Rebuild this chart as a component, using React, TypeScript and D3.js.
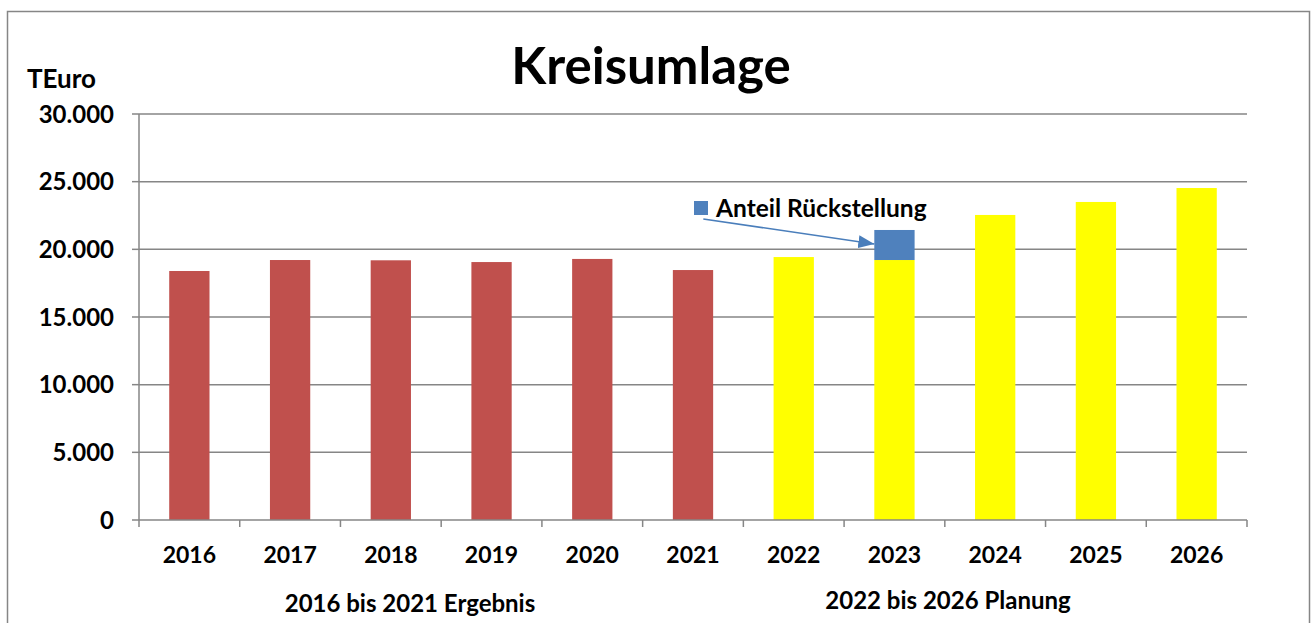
import React from "react";
import * as d3 from "d3";

const years = ["2016", "2017", "2018", "2019", "2020", "2021", "2022", "2023", "2024", "2025", "2026"];
const baseValues = [18400, 19210, 19190, 19060, 19290, 18470, 19430, 19210, 22540, 23500, 24530];
const reserveValues = [0, 0, 0, 0, 0, 0, 0, 2220, 0, 0, 0];
const isPlan = [false, false, false, false, false, false, true, true, true, true, true];
const yTicks = [0, 5000, 10000, 15000, 20000, 25000, 30000];
const groupLabels = ["2016 bis 2021 Ergebnis", "2022 bis 2026 Planung"];
const annotationText = "Anteil Rückstellung";
const annotationYear = "2023";

const W = 1312;
const H = 623;
const M = { left: 139, right: 1247, top: 114, bottom: 520 };
const FONT = "Lato, 'Open Sans', sans-serif";
const GRID = "#868686";
const groupPos = [
  { x: 410, y: 603 },
  { x: 948, y: 600 },
];

export default function App() {
  const x = d3.scaleBand<string>().domain(years).range([M.left, M.right]).paddingInner(0.6).paddingOuter(0.3);
  const xb = d3.scaleBand<string>().domain(years).range([M.left, M.right]);
  const y = d3.scaleLinear().domain([0, 30000]).range([M.bottom, M.top]);
  const fmt = (v: number) => (v === 0 ? "0" : d3.format(",")(v).replace(/,/g, "."));

  const ai = years.indexOf(annotationYear);
  const annX = x(annotationYear)!;
  const annTop = y(baseValues[ai] + reserveValues[ai]);
  const annBot = y(baseValues[ai]);
  const arrowEnd: [number, number] = [annX, (annTop + annBot) / 2 - 1];
  const arrowStart: [number, number] = [annX - 171, 219];

  return (
    <svg width={W} height={H} style={{ position: "absolute", left: 0, top: 0, background: "#fff" }} fontFamily={FONT}>
      <defs>
        <marker id="arr" viewBox="0 0 16 13" refX="16" refY="6.5" markerWidth="16" markerHeight="13" orient="auto" markerUnits="userSpaceOnUse">
          <path d="M0,0 L16,6.5 L0,13 z" fill="#4A7EBB" />
        </marker>
      </defs>
      <rect x={7.5} y={11.5} width={1302} height={H} fill="#fff" stroke={GRID} strokeWidth={1.5} />
      <text x={651} y={84} textAnchor="middle" fontSize={51} fontWeight="bold">Kreisumlage</text>
      <text x={27} y={88} fontSize={26} fontWeight="bold">TEuro</text>
      {yTicks.map((t) => (
        <g key={t}>
          {t > 0 && <line x1={M.left} x2={M.right} y1={y(t)} y2={y(t)} stroke={GRID} strokeWidth={1.5} />}
          <line x1={M.left - 7} x2={M.left} y1={y(t)} y2={y(t)} stroke={GRID} strokeWidth={1.5} />
          <text x={114} y={y(t)} dy="0.36em" textAnchor="end" fontSize={24} fontWeight="bold">{fmt(t)}</text>
        </g>
      ))}
      {years.map((yr, i) => (
        <g key={yr}>
          <rect x={x(yr)} y={y(baseValues[i])} width={x.bandwidth()} height={y(0) - y(baseValues[i])} fill={isPlan[i] ? "#FFFF00" : "#C0504D"} />
          {reserveValues[i] > 0 && (
            <rect x={x(yr)} y={y(baseValues[i] + reserveValues[i])} width={x.bandwidth()} height={y(baseValues[i]) - y(baseValues[i] + reserveValues[i])} fill="#4F81BD" />
          )}
          <text x={xb(yr)! + xb.bandwidth() / 2} y={555} dy="0.36em" textAnchor="middle" fontSize={23} fontWeight="bold">{yr}</text>
        </g>
      ))}
      <line x1={M.left} x2={M.left} y1={M.top} y2={M.bottom} stroke={GRID} strokeWidth={1.5} />
      <line x1={M.left} x2={M.right} y1={M.bottom} y2={M.bottom} stroke={GRID} strokeWidth={1.5} />
      {years.map((yr) => (
        <line key={"t" + yr} x1={xb(yr)! + xb.bandwidth()} x2={xb(yr)! + xb.bandwidth()} y1={M.bottom} y2={M.bottom + 7} stroke={GRID} strokeWidth={1.5} />
      ))}
      <line x1={M.left} x2={M.left} y1={M.bottom} y2={M.bottom + 7} stroke={GRID} strokeWidth={1.5} />
      {groupLabels.map((g, i) => (
        <text key={g} x={groupPos[i].x} y={groupPos[i].y} dy="0.36em" textAnchor="middle" fontSize={24} fontWeight="bold">{g}</text>
      ))}
      <rect x={694} y={201} width={14} height={14} fill="#4F81BD" />
      <text x={716} y={217} fontSize={24.5} fontWeight="bold">{annotationText}</text>
      <line x1={arrowStart[0]} y1={arrowStart[1]} x2={arrowEnd[0]} y2={arrowEnd[1]} stroke="#4A7EBB" strokeWidth={1.5} markerEnd="url(#arr)" />
    </svg>
  );
}
